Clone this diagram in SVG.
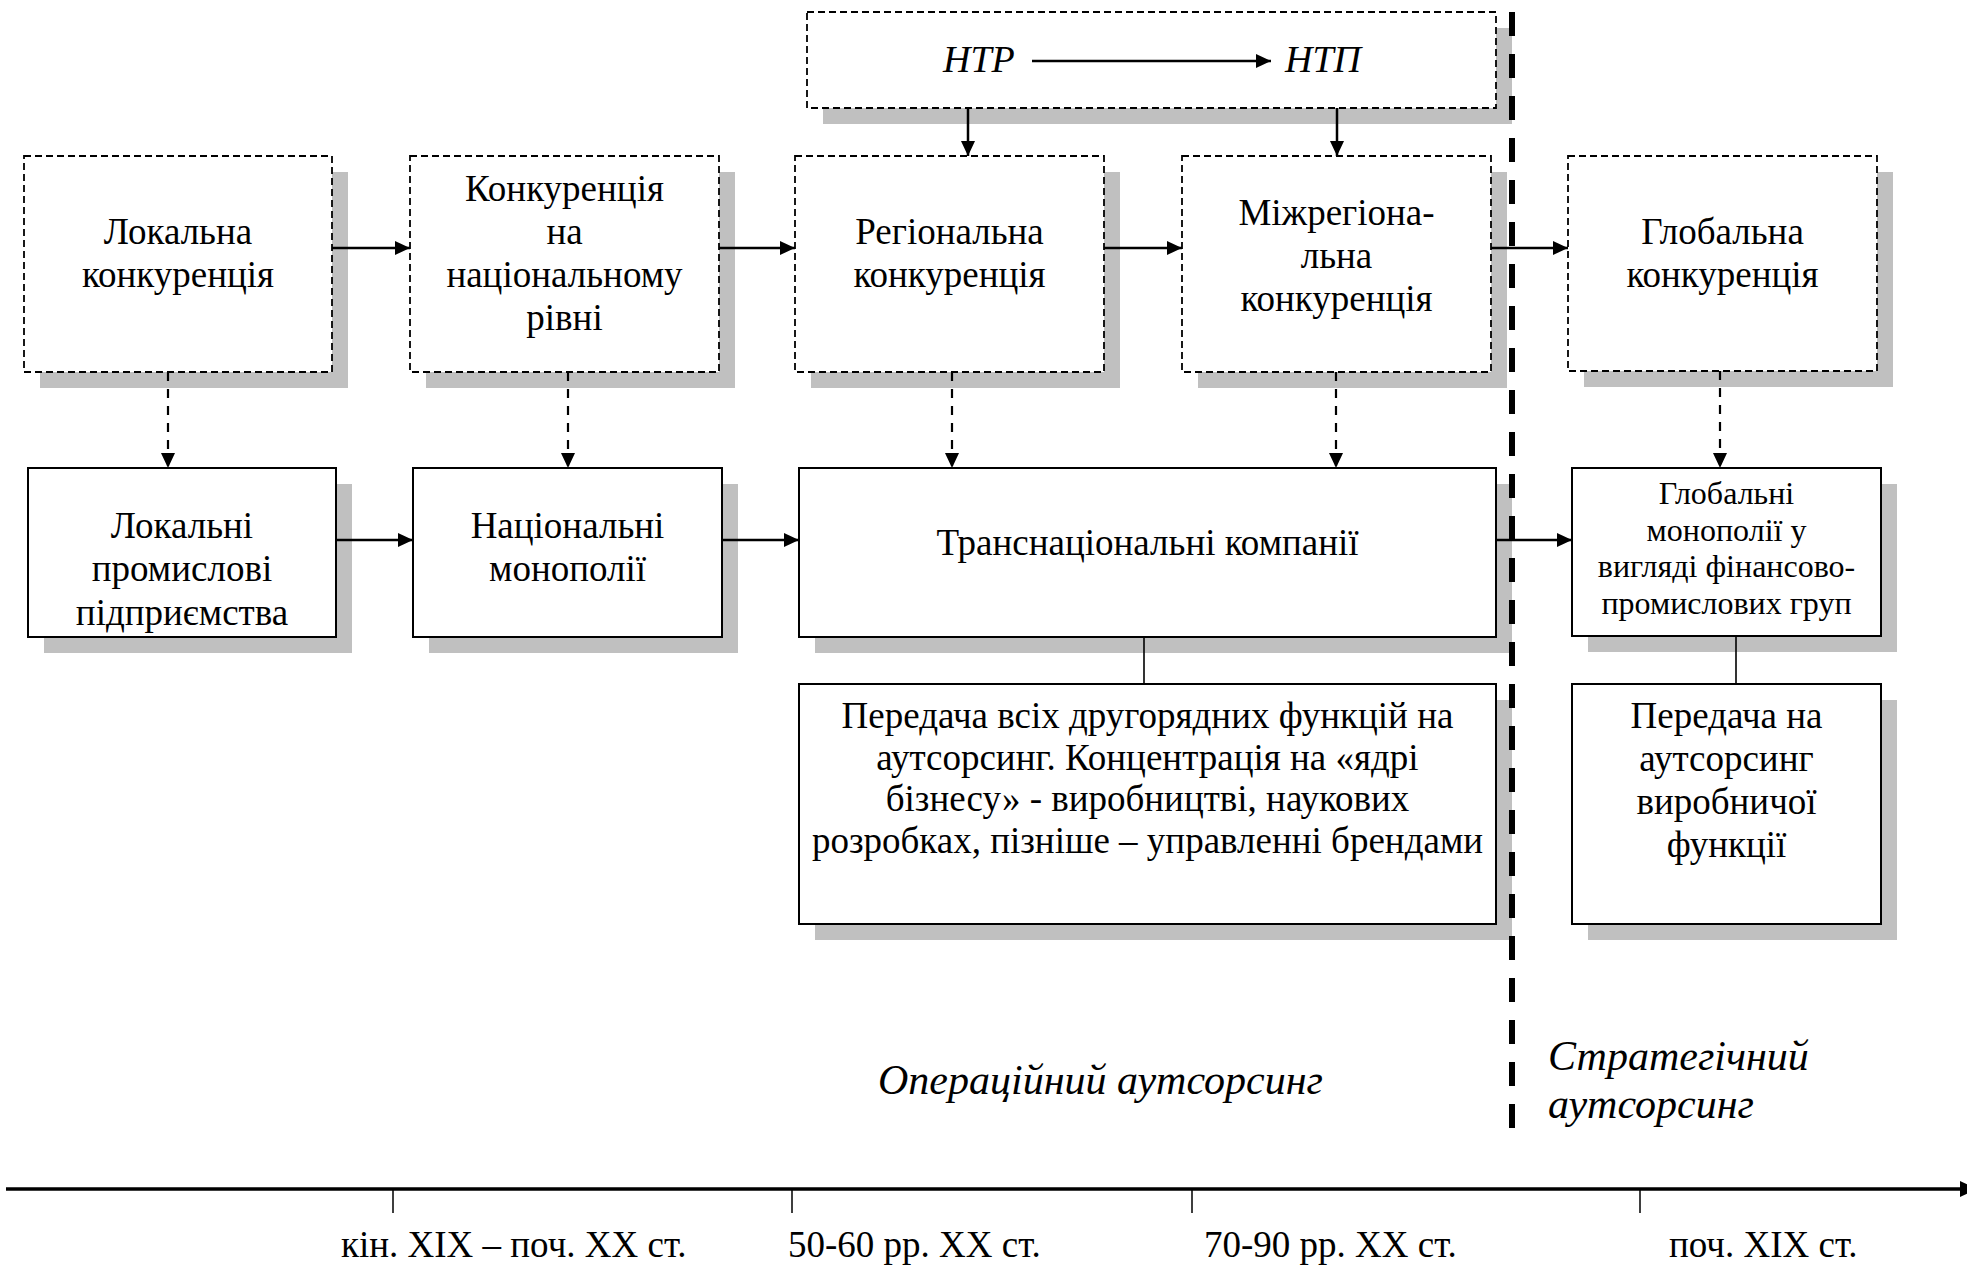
<svg xmlns="http://www.w3.org/2000/svg" width="1967" height="1265" viewBox="0 0 1967 1265">
<style>
text{font-family:"Liberation Serif","Times New Roman",serif;fill:#000}
.t{font-size:37px;text-anchor:middle}
.s{font-size:32px;text-anchor:middle}
.i{font-style:italic}
.sh{fill:#c0c0c0}
.dbox{fill:#fff;stroke:#000;stroke-width:1.8;stroke-dasharray:7,4}
.box{fill:#fff;stroke:#000;stroke-width:2}
.arr{stroke:#000;stroke-width:2.5;fill:none;marker-end:url(#ah)}
.darr{stroke:#000;stroke-width:2.2;fill:none;stroke-dasharray:9,8;marker-end:url(#ah)}
.ln{stroke:#000;stroke-width:1.6;fill:none}
</style>
<defs>
<marker id="ah" markerUnits="userSpaceOnUse" markerWidth="16" markerHeight="14" refX="15" refY="7" orient="auto">
<path d="M0,0 L15,7 L0,14 z" fill="#000"/>
</marker>
</defs>
<rect width="1967" height="1265" fill="#fff"/>

<g id="ntr">
<rect class="sh" x="823" y="28" width="689" height="96"/>
<rect class="dbox" x="807" y="12" width="689" height="96"/>
<text class="i" x="943" y="72" font-size="38">НТР</text>
<text class="i" x="1285" y="72" font-size="38">НТП</text>
</g>

<g id="b1">
<rect class="sh" x="40" y="172" width="308" height="216"/>
<rect class="dbox" x="24" y="156" width="308" height="216"/>
<text class="t" x="178" y="244">Локальна</text>
<text class="t" x="178" y="287">конкуренція</text>
</g>
<g id="b2">
<rect class="sh" x="426" y="172" width="309" height="216"/>
<rect class="dbox" x="410" y="156" width="309" height="216"/>
<text class="t" x="564.5" y="201">Конкуренція</text>
<text class="t" x="564.5" y="244">на</text>
<text class="t" x="564.5" y="287">національному</text>
<text class="t" x="564.5" y="330">рівні</text>
</g>
<g id="b3">
<rect class="sh" x="811" y="172" width="309" height="216"/>
<rect class="dbox" x="795" y="156" width="309" height="216"/>
<text class="t" x="949.5" y="244">Регіональна</text>
<text class="t" x="949.5" y="287">конкуренція</text>
</g>
<g id="b4">
<rect class="sh" x="1198" y="172" width="309" height="216"/>
<rect class="dbox" x="1182" y="156" width="309" height="216"/>
<text class="t" x="1336.5" y="225">Міжрегіона-</text>
<text class="t" x="1336.5" y="268">льна</text>
<text class="t" x="1336.5" y="311">конкуренція</text>
</g>
<g id="b5">
<rect class="sh" x="1584" y="172" width="309" height="215"/>
<rect class="dbox" x="1568" y="156" width="309" height="215"/>
<text class="t" x="1722.5" y="244">Глобальна</text>
<text class="t" x="1722.5" y="287">конкуренція</text>
</g>

<g id="c1">
<rect class="sh" x="44" y="484" width="308" height="169"/>
<rect class="box" x="28" y="468" width="308" height="169"/>
<text class="t" x="182" y="538">Локальні</text>
<text class="t" x="182" y="581">промислові</text>
<text class="t" x="182" y="625">підприємства</text>
</g>
<g id="c2">
<rect class="sh" x="429" y="484" width="309" height="169"/>
<rect class="box" x="413" y="468" width="309" height="169"/>
<text class="t" x="567.5" y="538">Національні</text>
<text class="t" x="567.5" y="581">монополії</text>
</g>
<g id="c3">
<rect class="sh" x="815" y="484" width="697" height="169"/>
<rect class="box" x="799" y="468" width="697" height="169"/>
<text class="t" x="1147.5" y="555">Транснаціональні компанії</text>
</g>
<g id="c4">
<rect class="sh" x="1588" y="484" width="309" height="168"/>
<rect class="box" x="1572" y="468" width="309" height="168"/>
<text class="s" x="1726.5" y="504">Глобальні</text>
<text class="s" x="1726.5" y="541">монополії у</text>
<text class="s" x="1726.5" y="577">вигляді фінансово-</text>
<text class="s" x="1726.5" y="614">промислових груп</text>
</g>
<g id="d3">
<rect class="sh" x="815" y="700" width="697" height="240"/>
<rect class="box" x="799" y="684" width="697" height="240"/>
<text class="t" x="1147.5" y="728">Передача всіх другорядних функцій на</text>
<text class="t" x="1147.5" y="770">аутсорсинг. Концентрація на «ядрі</text>
<text class="t" x="1147.5" y="811">бізнесу» - виробництві, наукових</text>
<text class="t" x="1147.5" y="853">розробках, пізніше – управленні брендами</text>
</g>
<g id="d4">
<rect class="sh" x="1588" y="700" width="309" height="240"/>
<rect class="box" x="1572" y="684" width="309" height="240"/>
<text class="t" x="1726.5" y="728">Передача на</text>
<text class="t" x="1726.5" y="771">аутсорсинг</text>
<text class="t" x="1726.5" y="814">виробничої</text>
<text class="t" x="1726.5" y="857">функції</text>
</g>

<g id="connectors">
<path class="arr" d="M1032,61 H1271"/>
<path class="arr" d="M968,108 V156"/>
<path class="arr" d="M1337,108 V156"/>
<path class="arr" d="M332,248 H410"/>
<path class="arr" d="M719,248 H795"/>
<path class="arr" d="M1104,248 H1182"/>
<path class="arr" d="M1491,248 H1568"/>
<path class="arr" d="M336,540 H413"/>
<path class="arr" d="M722,540 H799"/>
<path class="arr" d="M1496,540 H1572"/>
<path class="darr" d="M168,372 V468"/>
<path class="darr" d="M568,372 V468"/>
<path class="darr" d="M952,372 V468"/>
<path class="darr" d="M1336,372 V468"/>
<path class="darr" d="M1720,371 V468"/>
<path class="ln" d="M1144,637 V684"/>
<path class="ln" d="M1736,636 V684"/>
</g>

<g id="divider">
<path d="M1512,12 V1128" stroke="#000" stroke-width="6" stroke-dasharray="24,18" fill="none"/>
</g>

<g id="labels">
<text class="i" x="878" y="1094" font-size="42">Операційний аутсорсинг</text>
<text class="i" x="1548" y="1070" font-size="42">Стратегічний</text>
<text class="i" x="1548" y="1118" font-size="42">аутсорсинг</text>
</g>

<g id="timeline">
<path d="M6,1189 H1962" stroke="#000" stroke-width="3.5" fill="none"/>
<polygon points="1960,1181 1977,1189 1960,1197" fill="#000"/>
<path d="M393,1189 V1213 M792,1189 V1213 M1192,1189 V1213 M1640,1189 V1213" stroke="#000" stroke-width="1.5" fill="none"/>
<text x="341" y="1257" font-size="37">кін. XIX – поч. XX ст.</text>
<text x="788" y="1257" font-size="37">50-60 рр. XX ст.</text>
<text x="1204" y="1257" font-size="37">70-90 рр. XX ст.</text>
<text x="1669" y="1257" font-size="37">поч. XIX ст.</text>
</g>
</svg>
